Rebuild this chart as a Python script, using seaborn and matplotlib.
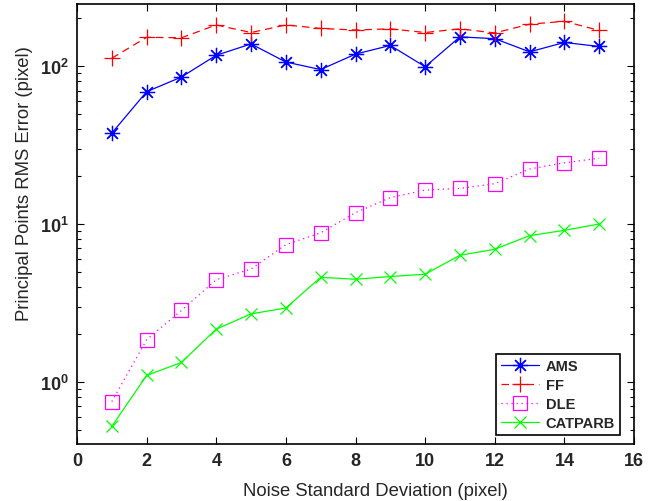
import numpy as np
import pandas as pd
import matplotlib
matplotlib.use("Agg")
import matplotlib.pyplot as plt
import seaborn as sns
from matplotlib.ticker import LogLocator, NullFormatter, FixedLocator

noise = [1, 2, 3, 4, 5, 6, 7, 8, 9, 10, 11, 12, 13, 14, 15]
ams = [37.6, 68.8, 85.2, 117, 138, 106, 95, 119, 135, 99, 153, 149, 123, 141, 133]
ff = [112, 152, 151, 182, 163, 182, 173, 169, 172, 163, 172, 162, 184, 192, 168]
dle = [0.751, 1.85, 2.84, 4.44, 5.19, 7.4, 8.8, 11.8, 14.7, 16.4, 16.8, 18.0, 22.3, 24.4, 26.1]
catparb = [0.524, 1.10, 1.33, 2.16, 2.70, 2.94, 4.6, 4.47, 4.65, 4.81, 6.34, 6.92, 8.44, 9.12, 10.0]
series_names = ["AMS", "FF", "DLE", "CATPARB"]
x_ticks = [0, 2, 4, 6, 8, 10, 12, 14, 16]

sns.set_theme(style="white")
plt.rcParams['font.family'] = ['Liberation Sans', 'DejaVu Sans']

fig = plt.figure(figsize=(6.61, 5.02), dpi=100)
ax = fig.add_axes([77/661, 57/502, 557/661, 440/502])

styles = [
    dict(color=(0, 0, 1), linestyle='-', marker=(8, 2, 0), markersize=11),
    dict(color=(1, 0, 0), linestyle=(0, (6, 4)), marker='+', markersize=12),
    dict(color=(1, 0, 1), linestyle=(0, (1, 3)), marker='s', markersize=10),
    dict(color=(0, 1, 0), linestyle='-', marker='x', markersize=9),
]
for name, vals, st in zip(series_names, [ams, ff, dle, catparb], styles):
    df = pd.DataFrame({"x": noise, "y": vals})
    sns.lineplot(data=df, x="x", y="y", ax=ax, label=name, color=st['color'],
                 linestyle=st['linestyle'], marker=st['marker'], markersize=st['markersize'],
                 markerfacecolor='none', markeredgecolor=st['color'], markeredgewidth=0.9,
                 linewidth=0.9)

ax.set_yscale('log')
ax.set_xlim(0, 16)
ax.set_ylim(0.405, 247)
ax.xaxis.set_major_locator(FixedLocator(x_ticks))
ax.set_xticklabels([str(t) for t in x_ticks], fontweight='bold', fontsize=13)
ax.yaxis.set_major_locator(LogLocator(base=10, numticks=10))
ax.yaxis.set_minor_locator(LogLocator(base=10, subs=np.arange(2, 10), numticks=20))
ax.yaxis.set_minor_formatter(NullFormatter())
for lab in ax.get_yticklabels():
    lab.set_fontweight('bold')
    lab.set_fontsize(13)
ax.tick_params(axis='both', which='major', direction='in', length=5, width=0.8,
               top=True, right=True, bottom=True, left=True, color='black', pad=6)
ax.tick_params(axis='y', which='minor', direction='in', length=3, width=0.8,
               left=True, right=True, color='black')
for sp in ax.spines.values():
    sp.set_color('black')
    sp.set_linewidth(1.2)

ax.set_xlabel("Noise Standard Deviation (pixel)", fontsize=13.3, labelpad=9)
ax.set_ylabel("Principal Points RMS Error (pixel)", fontsize=13.3, labelpad=5)
ax.xaxis.label.set_x(0.535)
ax.yaxis.label.set_y(0.595)
ax.grid(False)

leg = ax.legend(loc='lower right', bbox_to_anchor=(0.975, 0.02), borderaxespad=0,
                prop={'weight': 'bold', 'size': 10.5}, handlelength=2.6,
                frameon=True, fancybox=False, edgecolor='black', framealpha=1,
                labelspacing=0.35, borderpad=0.35, handletextpad=0.45)
leg.get_frame().set_linewidth(1.2)

fig.savefig("out.png", dpi=100)
